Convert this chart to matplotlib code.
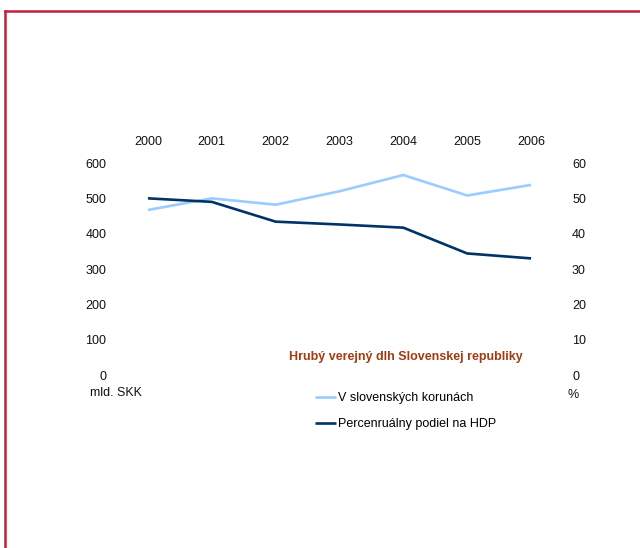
import matplotlib.pyplot as plt
from matplotlib.lines import Line2D

plt.rcParams['font.family'] = ['Liberation Sans', 'DejaVu Sans']

years = ['2000', '2001', '2002', '2003', '2004', '2005', '2006']
debt_skk = [467, 500, 482, 520, 566, 508, 538]      # mld. SKK
debt_pct = [50.0, 49.0, 43.4, 42.6, 41.7, 34.4, 33.0]  # % HDP
left_ticks = [0, 100, 200, 300, 400, 500, 600]
right_ticks = [0, 10, 20, 30, 40, 50, 60]

W, H = 640, 548
fig = plt.figure(figsize=(W / 100, H / 100), dpi=100)

# plot area given in pixels: left 116, right 563, top 163, bottom 375
ax = fig.add_axes([116 / W, (H - 375) / H, (563 - 116) / W, (375 - 163) / H])
ax2 = ax.twinx()

x = range(len(years))
l1, = ax.plot(x, debt_skk, color='#99CCFF', lw=1.9, solid_capstyle='butt')
l2, = ax2.plot(x, debt_pct, color='#003366', lw=1.9, solid_capstyle='butt')

ax.set_xlim(-0.5, len(years) - 0.5)
ax.set_ylim(0, 600)
ax2.set_ylim(0, 60)
ax.set_yticks(left_ticks)
ax2.set_yticks(right_ticks)
ax.set_xticks(list(x))
ax.set_xticklabels(years)
ax.xaxis.tick_top()

for a in (ax, ax2):
    for s in a.spines.values():
        s.set_visible(False)
    a.patch.set_visible(False)
ax.tick_params(axis='x', length=0, pad=11, labelsize=9, colors='#111111')
ax.tick_params(axis='y', length=0, pad=7, labelsize=9, colors='#111111')
ax2.tick_params(axis='y', length=0, pad=6.5, labelsize=9, colors='#111111')

def px(xp, yp):
    return xp / W, 1 - yp / H

fig.text(*px(90, 393), 'mld. SKK', fontsize=9, va='center', ha='left', color='#111111')
fig.text(*px(567, 395), '%', fontsize=9, va='center', ha='left', color='#111111')
fig.text(*px(289, 357), 'Hrubý verejný dlh Slovenskej republiky', fontsize=9,
         fontweight='bold', color='#A33A12', va='center', ha='left')

fig.legend([l1, l2], ['V slovenských korunách', 'Percenruálny podiel na HDP'],
           loc='upper left', bbox_to_anchor=px(315, 392), frameon=False,
           fontsize=9, handlelength=1.68, handletextpad=0.16,
           labelspacing=1.15, borderpad=0, borderaxespad=0)

# red frame on top and left side
fig.add_artist(Line2D([5 / W, 1], [1 - 11 / H, 1 - 11 / H], color='#C21F3A', lw=1.8))
fig.add_artist(Line2D([5 / W, 5 / W], [0, 1 - 11 / H], color='#C21F3A', lw=1.8))

fig.savefig('out.png', dpi=100)
